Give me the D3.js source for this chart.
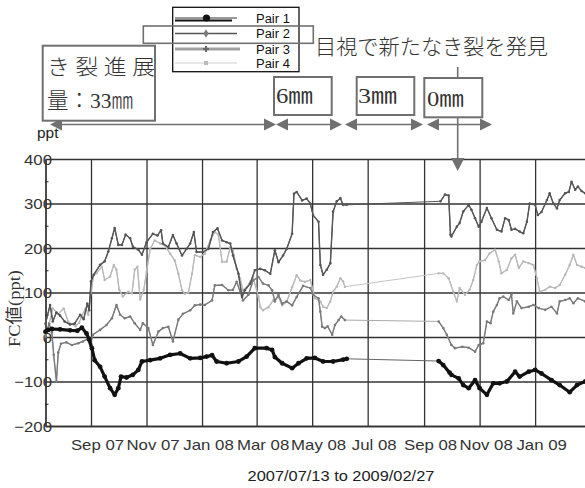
<!DOCTYPE html>
<html lang="ja">
<head>
<meta charset="utf-8">
<title>FC値の推移</title>
<script src="https://cdn.jsdelivr.net/npm/d3@7"></script>
<style>
  body { margin: 0; background: #fff; }
  svg { display: block; }
</style>
</head>
<body>
<svg id="chart" width="585" height="488"></svg>
<script>
// 計測期間
const startDate = "2007-07-13", endDate = "2009-02-27";

// [計測開始からの経過日数, FC値(ppt)]  -- 図から読み取った値
const pair1 = [[0,12],[3,16],[7,18],[16,17],[27,15],[35,14],[40,21],[45,8],[48,-5],[51,-25],[54,-52],[60,-67],[65,-89],[71,-115],[76,-130],[80,-115],[83,-89],[89,-91],[96,-85],[102,-74],[106,-55],[115,-52],[126,-48],[137,-40],[148,-37],[159,-48],[170,-47],[177,-44],[183,-41],[188,-55],[199,-59],[212,-55],[221,-44],[230,-25],[243,-25],[249,-29],[252,-45],[260,-59],[271,-70],[278,-59],[287,-48],[296,-47],[305,-55],[316,-55],[327,-51],[331,-49],
  [432,-54],[437,-63],[444,-80],[446,-85],[454,-93],[459,-108],[465,-115],[472,-97],[477,-115],[485,-130],[492,-104],[499,-104],[507,-100],[516,-78],[521,-89],[531,-78],[538,-74],[545,-82],[556,-97],[565,-108],[576,-124],[584,-108],[593,-100]];

const pair2 = [[0,30],[5,72],[8,35],[12,55],[16,48],[21,35],[27,28],[32,30],[38,50],[42,40],[46,75],[48,60],[50,125],[53,140],[60,162],[65,170],[69,192],[73,222],[76,245],[80,207],[84,207],[88,230],[93,222],[96,203],[102,196],[106,185],[111,213],[118,232],[123,228],[127,240],[129,210],[135,202],[140,229],[144,210],[150,183],[155,198],[159,210],[163,236],[166,191],[173,191],[179,198],[184,236],[189,244],[194,217],[199,213],[203,210],[206,183],[212,142],[216,90],[219,105],[225,120],[230,150],[236,153],[241,150],[247,142],[252,195],[256,168],[261,183],[265,198],[271,232],[273,322],[276,326],[282,307],[287,311],[291,300],[294,274],[300,259],[302,162],[305,140],[309,151],[313,166],[316,282],[320,305],[324,312],[327,297],[331,297],
  [434,305],[439,320],[443,318],[445,230],[446,226],[452,248],[455,256],[459,282],[465,297],[468,286],[472,267],[476,248],[479,259],[485,290],[490,267],[496,241],[501,237],[505,267],[509,263],[512,241],[516,243],[521,237],[525,233],[529,259],[532,300],[538,297],[541,274],[545,281],[551,308],[554,323],[558,300],[562,289],[565,308],[571,323],[575,326],[578,349],[582,331],[585,338],[589,328],[593,323]];

const pair3 = [[0,0],[4,30],[7,10],[9,-40],[12,-100],[14,-35],[17,-15],[23,-12],[29,-18],[36,-14],[41,-10],[46,-5],[49,-20],[52,5],[60,16],[67,27],[73,42],[78,72],[82,50],[87,42],[93,46],[98,31],[104,16],[107,31],[113,20],[118,-18],[124,12],[129,20],[135,23],[140,-10],[146,39],[151,52],[159,60],[164,71],[170,73],[175,72],[183,82],[186,116],[194,117],[201,105],[206,106],[210,124],[214,101],[217,82],[223,95],[228,127],[234,135],[239,120],[245,116],[249,105],[252,80],[256,95],[260,75],[265,80],[271,71],[276,90],[283,115],[291,110],[294,95],[300,87],[302,57],[304,23],[307,20],[310,24],[315,5],[318,27],[322,38],[325,46],[329,38],
  [432,35],[437,20],[441,5],[446,-18],[450,-25],[458,-22],[465,-24],[472,-33],[476,-18],[481,-14],[485,35],[489,31],[492,57],[496,72],[499,87],[503,91],[509,83],[512,95],[514,53],[518,80],[523,65],[531,68],[536,72],[542,65],[549,61],[556,68],[562,53],[565,80],[571,83],[576,87],[580,76],[585,87],[593,80]];

const pair4 = [[0,5],[4,30],[8,64],[14,52],[20,64],[25,34],[33,24],[37,32],[40,49],[44,64],[47,50],[50,102],[53,139],[56,143],[62,158],[65,128],[71,136],[75,162],[78,151],[81,106],[85,91],[91,102],[95,98],[98,151],[101,158],[104,84],[108,106],[111,146],[115,198],[120,217],[126,210],[131,206],[137,187],[142,172],[146,142],[150,105],[153,97],[157,100],[161,142],[164,184],[170,180],[175,187],[181,217],[186,236],[190,230],[194,169],[199,169],[203,202],[206,195],[210,154],[214,131],[217,105],[221,112],[225,124],[228,135],[234,90],[236,67],[239,60],[245,67],[250,82],[256,90],[260,71],[265,79],[271,112],[276,139],[280,127],[285,124],[291,128],[296,87],[302,80],[305,68],[309,65],[313,80],[316,102],[320,113],[324,132],[327,125],[329,113],
  [432,143],[437,143],[443,132],[448,102],[452,80],[455,110],[461,95],[466,106],[470,128],[474,162],[477,170],[483,173],[488,188],[494,196],[498,170],[501,143],[507,151],[512,177],[516,185],[520,155],[525,170],[531,166],[536,162],[540,132],[543,102],[549,106],[554,113],[560,110],[565,117],[571,140],[576,162],[580,185],[584,162],[589,158],[593,155]];

const seriesNames = ["Pair 1", "Pair 2", "Pair 3", "Pair 4"];
const yTicks = [-200, -100, 0, 100, 200, 300, 400];
const yMinorTicks = [-150, -50, 50, 150, 250, 350];
const xTickDates = ["2007-09-01", "2007-11-01", "2008-01-01", "2008-03-01", "2008-05-01",
                    "2008-07-01", "2008-09-01", "2008-11-01", "2009-01-01"];
const xTickLabels = ["Sep 07", "Nov 07", "Jan 08", "Mar 08", "May 08", "Jul 08", "Sep 08", "Nov 08", "Jan 09"];

// ---------------------------------------------------------------
const svg = d3.select("#chart");
const parse = d3.timeParse("%Y-%m-%d");
const t0 = parse(startDate), t1 = parse(endDate);
const plotTop = 159, plotBottom = 426, plotLeft = 45.5, plotRight = 587;

const x = d3.scaleTime().domain([t0, t1]).range([plotLeft, plotRight]);
const y = d3.scaleLinear().domain([-200, 400]).range([plotBottom, plotTop]);
const toDate = d => d3.timeDay.offset(t0, d);

const sans = "'Liberation Sans', Arial, sans-serif";
const serifJa = "'Liberation Serif', 'Noto Sans CJK JP', serif";
const ja = "'Noto Sans CJK JP', sans-serif";

// 元の図は横にやや引き伸ばされているので文字幅を合わせる
function stretch(sel, k) {
  sel.each(function () {
    const w = this.getComputedTextLength();
    d3.select(this).attr("textLength", w * k).attr("lengthAdjust", "spacingAndGlyphs");
  });
}

// 格子と軸
const gx = svg.append("g")
  .attr("transform", `translate(0,${plotBottom})`)
  .call(d3.axisBottom(x)
    .tickValues(xTickDates.map(parse))
    .tickFormat((d, i) => xTickLabels[i])
    .tickSize(-(plotBottom - plotTop))
    .tickSizeOuter(0));
gx.select(".domain").attr("stroke", "#222").attr("stroke-width", 1.4);
gx.selectAll(".tick line").attr("stroke", "#333").attr("stroke-width", 1.3);
gx.selectAll(".tick text")
  .attr("y", 24).attr("dy", null).attr("dx", 6)
  .attr("fill", "#333").style("font", `15px ${sans}`)
  .call(stretch, 1.12);

const gy = svg.append("g")
  .attr("transform", `translate(${plotLeft},0)`)
  .call(d3.axisLeft(y)
    .tickValues(yTicks)
    .tickSize(-(585 - plotLeft))
    .tickSizeOuter(0));
gy.select(".domain").attr("stroke", "#111").attr("stroke-width", 1.5);
gy.selectAll(".tick line").attr("stroke", "#333").attr("stroke-width", 1.3);
gy.selectAll(".tick text")
  .attr("x", 6.5).attr("dy", "0.36em")
  .attr("fill", "#333").style("font", `15px ${sans}`)
  .call(stretch, 1.12);

svg.append("g")
  .attr("transform", `translate(${plotLeft},0)`)
  .call(d3.axisRight(y).tickValues(yMinorTicks).tickSize(3).tickFormat(""))
  .call(g => g.select(".domain").remove())
  .selectAll("line").attr("stroke", "#222");

// 系列
const styles = [
  { data: pair1, color: "#111", width: 3.2, bridge: "#666", r: 2.4 },
  { data: pair2, color: "#555", width: 1.4, bridge: "#555", r: 1.3 },
  { data: pair3, color: "#7a7a7a", width: 1.4, bridge: "#aaa", r: 1.3 },
  { data: pair4, color: "#b8b8b8", width: 1.3, bridge: "#c4c4c4", r: 1.2 }
];
const line = d3.line().x(d => x(toDate(d[0]))).y(d => y(d[1]));

function segments(data) {
  const out = [[data[0]]];
  for (let i = 1; i < data.length; i++) {
    if (data[i][0] - data[i - 1][0] > 30) out.push([]);
    out[out.length - 1].push(data[i]);
  }
  return out;
}

const plot = svg.append("g");
styles.slice().reverse().forEach(s => {
  const g = plot.append("g");
  g.append("path").attr("d", line(s.data))
    .attr("fill", "none").attr("stroke", s.bridge).attr("stroke-width", 1);
  g.selectAll("path.seg").data(segments(s.data)).join("path").attr("class", "seg")
    .attr("d", line).attr("fill", "none")
    .attr("stroke", s.color).attr("stroke-width", s.width).attr("stroke-linejoin", "round");
  g.selectAll("circle").data(s.data).join("circle")
    .attr("cx", d => x(toDate(d[0]))).attr("cy", d => y(d[1]))
    .attr("r", s.r).attr("fill", s.color);
});

// 凡例
const leg = svg.append("g");
leg.append("rect").attr("x", 172.7).attr("y", 7.3).attr("width", 126.3).attr("height", 64.4)
  .attr("fill", "#fff").attr("stroke", "#111").attr("stroke-width", 1.3);
const legRows = [19.5, 33.5, 49, 63];
const legY = [23, 38, 53.5, 68];
// Pair 1
leg.append("line").attr("x1", 175).attr("x2", 237).attr("y1", 18).attr("y2", 18).attr("stroke", "#333").attr("stroke-width", 1);
leg.append("line").attr("x1", 175).attr("x2", 232).attr("y1", 20.5).attr("y2", 20.5).attr("stroke", "#111").attr("stroke-width", 2.2);
leg.append("circle").attr("cx", 206.5).attr("cy", 18).attr("r", 3.6).attr("fill", "#111");
// Pair 2
leg.append("line").attr("x1", 175).attr("x2", 237).attr("y1", legRows[1]).attr("y2", legRows[1]).attr("stroke", "#555").attr("stroke-width", 1.4);
leg.append("path").attr("d", d3.symbol(d3.symbolDiamond, 22)()).attr("transform", `translate(206,${legRows[1]})`).attr("fill", "#777");
// Pair 3
leg.append("line").attr("x1", 175).attr("x2", 240).attr("y1", legRows[2]).attr("y2", legRows[2]).attr("stroke", "#a0a0a0").attr("stroke-width", 3);
leg.append("path").attr("d", d3.symbol(d3.symbolCross, 20)()).attr("transform", `translate(206,${legRows[2]})`).attr("fill", "#666");
// Pair 4
leg.append("line").attr("x1", 175).attr("x2", 237).attr("y1", legRows[3]).attr("y2", legRows[3]).attr("stroke", "#d0d0d0").attr("stroke-width", 1.2);
leg.append("rect").attr("x", 204).attr("y", legRows[3] - 2).attr("width", 4).attr("height", 4).attr("fill", "#bbb");
leg.selectAll("text").data(seriesNames).join("text")
  .attr("x", 256).attr("y", (d, i) => legY[i]).text(d => d)
  .attr("fill", "#111").style("font", `12px ${sans}`)
  .call(stretch, 1.08);

// 注記
const ann = svg.append("g");
const gray = "#707070";
ann.append("rect").attr("x", 143.3).attr("y", 26).attr("width", 170).attr("height", 17.3)
  .attr("fill", "none").attr("stroke", gray).attr("stroke-width", 1.6);
ann.append("text").attr("x", 315).attr("y", 54).text("目視で新たなき裂を発見")
  .attr("fill", "#333").style("font", `300 21px ${ja}`)
  .attr("textLength", 233).attr("lengthAdjust", "spacingAndGlyphs");

function hArrow(x1, x2, yy) {
  const h = 12, w = 6;
  ann.append("line").attr("x1", x1 + h).attr("x2", x2 - h).attr("y1", yy).attr("y2", yy)
    .attr("stroke", gray).attr("stroke-width", 1.6);
  ann.append("path").attr("d", `M${x1},${yy}L${x1 + h},${yy - w}L${x1 + h},${yy + w}Z`).attr("fill", gray);
  ann.append("path").attr("d", `M${x2},${yy}L${x2 - h},${yy - w}L${x2 - h},${yy + w}Z`).attr("fill", gray);
}
hArrow(50, 276, 124.5);
hArrow(276, 342, 124.5);
hArrow(345, 423, 124.5);
hArrow(427, 492, 124.5);

// 発見時点を示す下向き矢印
ann.append("line").attr("x1", 457.7).attr("x2", 457.7).attr("y1", 67).attr("y2", 158)
  .attr("stroke", gray).attr("stroke-width", 1.6);
ann.append("path").attr("d", "M457.7,171L451,158L464.4,158Z").attr("fill", gray);

function box(x0, y0, w, h) {
  ann.append("rect").attr("x", x0).attr("y", y0).attr("width", w).attr("height", h)
    .attr("fill", "#fff").attr("stroke", gray).attr("stroke-width", 2);
}
function label(tx, ty, str, size, len, weight) {
  const t = ann.append("text").attr("x", tx).attr("y", ty).text(str)
    .attr("fill", "#333").style("font", `${weight || 400} ${size}px ${serifJa}`);
  if (len) t.attr("textLength", len).attr("lengthAdjust", "spacingAndGlyphs");
}
box(42.7, 45.7, 112.3, 75);
label(47, 74, "き 裂 進 展", 21, 108, 300);
label(47, 108, "量：33㎜", 22, 86, 300);
box(274, 77, 57.7, 38);
label(276, 103, "6㎜", 22, 37);
box(356.7, 77, 57.6, 38);
label(358, 103, "3㎜", 22, 39);
box(424.3, 78, 58, 39.3);
label(427, 106, "0㎜", 22, 37);

// 軸タイトル
svg.append("text").attr("x", 37).attr("y", 138).text("ppt")
  .attr("fill", "#222").style("font", `14px ${sans}`).call(stretch, 1.1);
svg.append("text").attr("transform", "translate(20,308.5) rotate(-90)")
  .attr("text-anchor", "middle").text("FC値(ppt)")
  .attr("fill", "#333").style("font", `17px ${serifJa}`)
  .attr("textLength", 77).attr("lengthAdjust", "spacingAndGlyphs");
svg.append("text").attr("x", 341).attr("y", 481).attr("text-anchor", "middle")
  .text(`${startDate.replace(/-/g, "/")} to ${endDate.replace(/-/g, "/")}`)
  .attr("fill", "#222").style("font", `14.5px ${sans}`).call(stretch, 1.13);
</script>
</body>
</html>
